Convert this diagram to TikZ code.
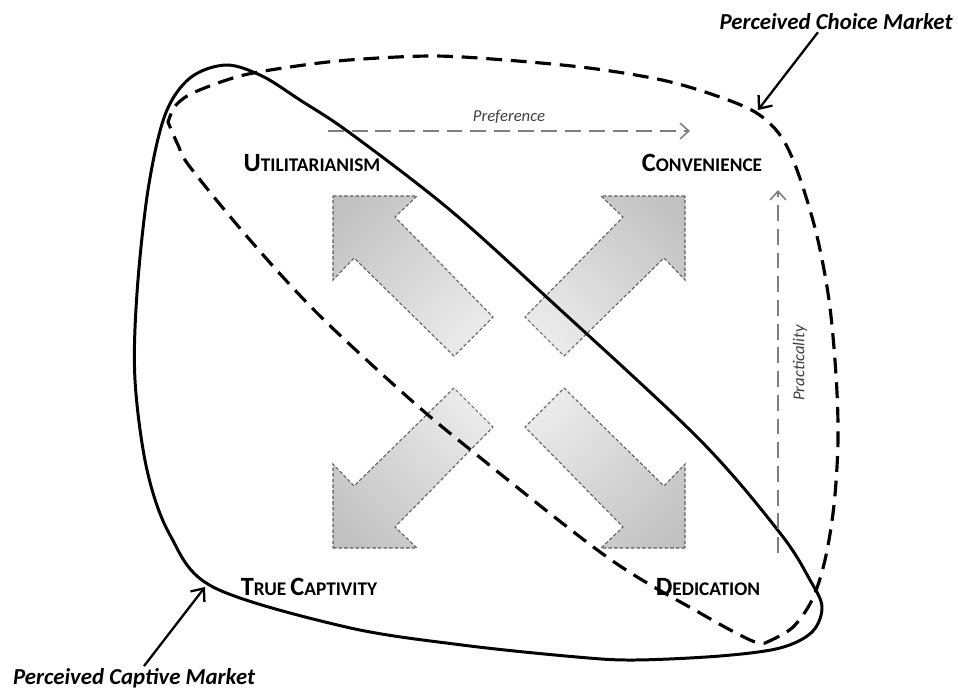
\documentclass[tikz,border=0pt]{standalone}
\usepackage{fontspec}
\setmainfont{Carlito}
\usetikzlibrary{arrows.meta}
\definecolor{axisgray}{HTML}{7F7F7F}
\definecolor{labelgray}{HTML}{404040}
\definecolor{blockedge}{HTML}{5E5E5E}
\newcommand\colorMarket{black}
\newcommand\colorAxis{axisgray}
\newcommand\blockInner{gray!6}
\newcommand\blockOuter{gray!55}
\newcommand\quadCap[2]{{\fontsize{15}{15}\selectfont #1}{\fontsize{11}{11}\selectfont #2}}
\newcommand\drawBlockArrow{
	\path[blockarrow]
	(-176,-176) -- (-92,-176) -- (-114,-155) -- (-16,-55) --
	(-55,-16) -- (-155,-114) -- (-176,-92) -- cycle;
}

\begin{document}
\begin{tikzpicture}[x=0.02cm, y=-0.02cm,
	blockarrow/.style={draw=blockedge, line width=0.6pt, dash pattern=on 2pt off 1.2pt,
		path picture={\shade[inner color=\blockInner, outer color=\blockOuter] (blockctr) circle (270);}},
	quadlabel/.style={font=\bfseries, text=black, inner sep=0pt},
	axislabel/.style={font=\itshape\fontsize{9.5}{10}\selectfont, text=labelgray, inner sep=1pt},
	axisarrow/.style={draw=\colorAxis, line width=0.9pt, dash pattern=on 9pt off 4.5pt,
		-{Straight Barb[length=5pt, width=9pt, line width=0.9pt]}},
	marketlabel/.style={font=\bfseries\itshape\fontsize{13}{13}\selectfont, inner sep=1pt},
	marketarrow/.style={draw=\colorMarket, line width=1.3pt,
		-{Straight Barb[length=6pt, width=10pt, line width=1.3pt]}},
	captivecurve/.style={draw=\colorMarket, line width=1.7pt},
	choicecurve/.style={draw=\colorMarket, line width=1.8pt, dash pattern=on 9pt off 5pt}]
	\useasboundingbox (0,0) rectangle (958,690);
	
	\coordinate (blockctr) at (509,372);
	\foreach \sx/\sy in {1/1,-1/1,1/-1,-1/-1}{
		\begin{scope}[shift={(blockctr)}, xscale=\sx, yscale=\sy]
			\drawBlockArrow
		\end{scope}
	}
	
	% market boundaries
	\draw[captivecurve] plot[smooth cycle, tension=0.55] coordinates {
		(226,65) (262,76) (300,100) (350,133) (450,210) (553,303) (700,440)
		(780,533) (810,580) (822,607) (812,632) (780,648) (720,656) (635,660)
		(577,657) (462,645) (346,627) (213,587) (170,535) (147,470) (135,380)
		(137,293) (148,190) (165,115) (190,78)};
	\draw[choicecurve] plot[smooth, tension=0.55] coordinates {
		(765,643) (792,628) (812,600) (825,560) (834,505) (838,440) (836,375)
		(829,300) (816,232) (797,170) (780,135) (755,112) (714,95) (662,80)
		(589,68) (505,60) (432,56) (349,60) (290,67) (240,76) (195,92)
		(176,105) (168,122)}
	-- plot[smooth, tension=0.55] coordinates {
		(168,122) (178,145) (190,167) (250,240) (317,313) (403,393) (467,447)
		(607,557) (700,613) (750,640) (765,643)} -- cycle;
	
	% quadrants
	\node[quadlabel] (util) at (312,163) {\quadCap{U}{TILITARIANISM}};
	\node[quadlabel] (conv) at (702,163) {\quadCap{C}{ONVENIENCE}};
	\node[quadlabel] (capt) at (309,587) {\quadCap{T}{RUE} \quadCap{C}{APTIVITY}};
	\node[quadlabel] (dedi) at (708,587) {\quadCap{D}{EDICATION}};
	
	% axes
	\coordinate (prefstart) at (328,131);
	\coordinate (prefend) at (690,131);
	\draw[axisarrow] (prefstart) -- (prefend);
	\node[axislabel] (preflbl) at (509,117) {Preference};
	\coordinate (practstart) at (778,553);
	\coordinate (practend) at (778,190);
	\draw[axisarrow] (practstart) -- (practend);
	\node[axislabel, rotate=90] (practlbl) at (800,363) {Practicality};
	
	% market labels
	\node[marketlabel] (choicelbl) at (836,22) {Perceived Choice Market};
	\coordinate (choicetip) at (758,110);
	\draw[marketarrow] ([xshift=-18*0.02cm]choicelbl.south) -- (choicetip);
	\node[marketlabel] (captlbl) at (134,678) {Perceived Captive Market};
	\coordinate (capttip) at (205,587);
	\draw[marketarrow] ([xshift=10*0.02cm]captlbl.north) -- (capttip);
\end{tikzpicture}
\end{document}
